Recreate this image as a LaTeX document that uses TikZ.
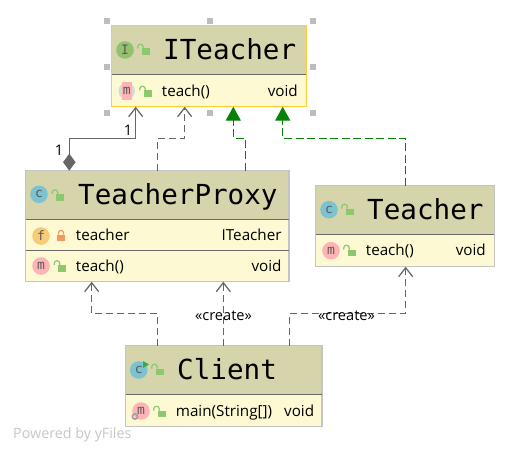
\documentclass[tikz,border=0pt]{standalone}
\usepackage{fontspec}
\setmainfont{Open Sans}
\newfontfamily\titlefont{DejaVu Sans Mono}
\usetikzlibrary{arrows.meta,fit,shapes.geometric}
\definecolor{hdr}{HTML}{D6D4AA}
\definecolor{bdy}{HTML}{FDFAD3}
\definecolor{edgegray}{HTML}{C4C4C0}
\definecolor{gold}{HTML}{FFCC33}
\definecolor{sepc}{HTML}{6A6A6A}
\definecolor{conn}{HTML}{666666}
\definecolor{grn}{HTML}{078207}
\definecolor{iconc}{HTML}{7CC3D2}
\definecolor{iconm}{HTML}{FFB3B5}
\definecolor{iconf}{HTML}{F8CB78}
\definecolor{iconi}{HTML}{93C26F}
\definecolor{lockg}{HTML}{8DC86F}
\definecolor{locko}{HTML}{F59A5E}
\definecolor{handle}{HTML}{BDBDBD}
\tikzset{
  boxframe/.style={draw=edgegray,line width=1.1pt,inner sep=0pt,outer sep=0pt},
  titletext/.style={anchor=base west,inner sep=0pt,font=\titlefont\fontsize{27.6}{28}\selectfont,text=black},
  rowtext/.style={anchor=base west,inner sep=0pt,font=\fontsize{15.2}{17}\selectfont,text=black},
  rowright/.style={anchor=base east,inner sep=0pt,font=\fontsize{15.2}{17}\selectfont,text=black},
  edgelabel/.style={inner sep=0pt,font=\fontsize{14.6}{16}\selectfont,text=black},
  dep/.style={draw=conn,line width=1.25pt,dash pattern=on 7pt off 4pt,-{Straight Barb[length=9pt,width=14pt,line width=1.25pt]}},
  real/.style={draw=grn,line width=1.35pt,dash pattern=on 8pt off 3.5pt,-{Triangle[length=14pt,width=15pt,fill=grn]}},
  comp/.style={draw=conn,line width=1.25pt,{Diamond[length=17pt,width=12.5pt,fill=conn]}-{Straight Barb[length=9pt,width=14pt,line width=1.25pt]}},
  iconletter/.style={inner sep=0pt,font=\titlefont\fontsize{13}{13}\selectfont,text=black!65},
  handlebox/.style={fill=handle,draw=none,minimum size=6pt,inner sep=0pt,outer sep=0pt},
}
\newcommand{\classbox}[6]{%
  \fill[bdy] (#2,#3) rectangle (#4,#5);
  \fill[hdr] (#2,#3) rectangle (#4,#6);
  \node[boxframe,fit={(#2,#3)(#4,#5)}] (#1) {};
  \draw[sepc,line width=1pt] (#2,#6) -- (#4,#6);
}
\newcommand{\lockicon}[3]{%
  \fill[#3] (#1-2.5,#2-1.5) rectangle (#1+5.5,#2+5);
  \draw[#3,line width=1.2pt] (#1-0.7,#2-1.5) -- (#1-0.7,#2-3) arc[start angle=0,end angle=-180,radius=2.8] -- (#1-6.3,#2-1.5);
}
\newcommand{\closedlock}[3]{%
  \fill[#3] (#1-4,#2-1.5) rectangle (#1+4,#2+5);
  \draw[#3,line width=1.2pt] (#1+2.6,#2-1.5) -- (#1+2.6,#2-3) arc[start angle=0,end angle=-180,radius=2.6] -- (#1-2.6,#2-1.5);
}
\newcommand{\icon}[5]{%
  \fill[#5] (#2,#3) circle[radius=8.8];
  \node[iconletter] (#1) at (#2,#3) {#4};
}
\begin{document}
\begin{tikzpicture}[x=1pt,y=-1pt]
\useasboundingbox (0,0) rectangle (520,452);
\fill[white] (0,0) rectangle (520,452);

% selection handles
\foreach \n/\hx/\hy in {a/106.7/20.7,b/210/20.7,c/313/20.7,d/106.7/66.7,e/313/66.7,f/106.7/112.7,g/210/112.7,h/313/112.7}
  \node[handlebox] (handle\n) at (\hx,\hy) {};

% ITeacher
\classbox{iteacher}{111.7}{25.7}{306.7}{106.7}{74.5}
\draw[gold,line width=1.2pt] (iteacher.south west) rectangle (iteacher.north east);
\icon{iI}{125}{50}{I}{iconi}
\lockicon{144}{50}{lockg}
\node[titletext] (iteachertitle) at (163,59.5) {ITeacher};
\fill[gray!30] (126.7,91) circle[radius=8.3];
\fill[iconm] (121.5,82.5) rectangle (132,100);
\node[iconletter] (iteacherm) at (126.7,91) {m};
\lockicon{146}{92}{lockg}
\node[rowtext] (iteacherrow) at (161.7,96) {teach()};
\node[rowright] (iteachervoid) at (298,96) {void};

% TeacherProxy
\classbox{proxy}{25.7}{170.7}{289}{281.7}{219.3}
\draw[sepc,line width=1pt] (25.7,250.7) -- (289,250.7);
\icon{pc}{39}{194.3}{c}{iconc}
\lockicon{58.5}{195.5}{lockg}
\node[titletext] (proxytitle) at (78,204) {TeacherProxy};
\icon{pf}{41}{236}{f}{iconf}
\closedlock{61}{236}{locko}
\node[rowtext] (proxyfield) at (75.7,240.5) {teacher};
\node[rowright] (proxyfieldtype) at (281.7,240.5) {ITeacher};
\icon{pm}{41}{266}{m}{iconm}
\lockicon{60.5}{266.5}{lockg}
\node[rowtext] (proxymethod) at (75.7,271) {teach()};
\node[rowright] (proxyvoid) at (281.7,271) {void};

% Teacher
\classbox{teacher}{315.7}{185.7}{494.3}{266.7}{234.3}
\icon{tc}{329}{209.7}{c}{iconc}
\lockicon{348}{210}{lockg}
\node[titletext] (teachertitle) at (367,219) {Teacher};
\icon{tm}{331}{250.7}{m}{iconm}
\lockicon{350}{251}{lockg}
\node[rowtext] (teacherrow) at (365.7,255.5) {teach()};
\node[rowright] (teachervoid) at (486,255.5) {void};

% Client
\classbox{client}{125.7}{345.7}{322}{426.7}{394}
\icon{cc}{138.7}{370}{c}{iconc}
\fill[green!55!black!75] (143,361) -- (149,364.5) -- (143,368) -- cycle;
\lockicon{158}{370}{lockg}
\node[titletext] (clienttitle) at (177,379.5) {Client};
\icon{cm}{141}{411}{m}{iconm}
\draw[gray!75,line width=1.6pt] (135,416.5) circle[radius=2.6];
\lockicon{160}{412}{lockg}
\node[rowtext] (clientrow) at (175.7,416) {main(String[])};
\node[rowright] (clientvoid) at (314.3,416) {void};

% Connectors
\draw[comp] (69.3,0 |- proxy.north) -- (69.3,138.3) -- (135.7,138.3) -- (135.7,0 |- iteacher.south);
\draw[dep] (157.3,0 |- proxy.north) -- (157.3,138.3) -- (184.7,138.3) -- (184.7,0 |- iteacher.south);
\draw[real] (245.7,0 |- proxy.north) -- (245.7,138.3) -- (233.3,138.3) -- (233.3,0 |- iteacher.south);
\draw[real] (405.7,0 |- teacher.north) -- (405.7,138.3) -- (282.7,138.3) -- (282.7,0 |- iteacher.south);
\draw[dep] (157.7,0 |- client.north) -- (157.7,313.3) -- (91.7,313.3) -- (91.7,0 |- proxy.south);
\draw[dep] (223.3,0 |- client.north) -- (223.3,0 |- proxy.south);
\draw[dep] (289.3,0 |- client.north) -- (289.3,313.3) -- (405.7,313.3) -- (405.7,0 |- teacher.south);

% Labels
\node[edgelabel] (one1) at (128,130.5) {1};
\node[edgelabel] (one2) at (59,150) {1};
\node[edgelabel] (create1) at (223.5,316) {«create»};
\node[edgelabel] (create2) at (346.5,316) {«create»};
\node[anchor=base west,inner sep=0pt,text=black!22,font=\fontsize{14.3}{16}\selectfont] (powered) at (13,438) {Powered by yFiles};
\end{tikzpicture}
\end{document}
